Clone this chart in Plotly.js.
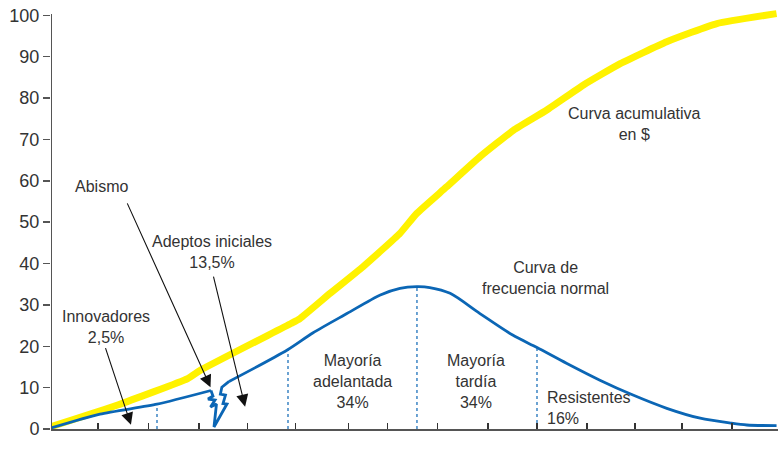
<!DOCTYPE html>
<html>
<head>
<meta charset="utf-8">
<script src="https://cdn.plot.ly/plotly-3.0.1.min.js"></script>
<style>html,body{margin:0;padding:0;background:#fff;}#chart{width:778px;height:457px;}</style>
</head>
<body>
<div id="chart"></div>
<script>
// Cumulative curve (yellow)
const cumX = [0, 9.17, 18.8, 20.6, 33.0, 34.25, 38.4, 42.9, 48.0, 50.3, 54.4, 59.0, 63.6, 68.2, 73.2, 78.3, 84.7, 91.6, 99.8];
const cumY = [0.56, 5.8, 12.2, 14.25, 25.5, 26.7, 32.8, 39.2, 47.3, 52.1, 58.5, 65.8, 72.2, 77.1, 83.1, 88.3, 93.6, 98.0, 100.4];

// Normal frequency curve (blue): innovators part
const freqAX = [0, 6.74, 14.58, 22.0];
const freqAY = [0.24, 3.6, 6.0, 9.3];
// the chasm zig-zag
const chasmX = [22.0, 22.28, 21.6, 22.56, 21.94, 22.76, 22.42, 24.2, 23.66, 24.0, 23.3, 23.5, 24.2, 24.5];
const chasmY = [9.3, 7.97, 7.25, 7.0, 5.31, 6.04, 0.48, 6.04, 6.16, 8.2, 8.45, 10.1, 11.1, 11.5];
// main bell part
const freqBX = [24.5, 32.5, 36.0, 40.7, 45.3, 48.0, 50.3, 52.1, 54.9, 59.0, 63.5, 66.85, 70.9, 75.5, 80.05, 84.7, 89.3, 93.6, 95.7, 99.8];
const freqBY = [11.5, 19.1, 23.2, 27.9, 32.4, 34.0, 34.4, 34.2, 32.8, 27.9, 22.7, 19.7, 15.9, 11.8, 8.2, 5.0, 2.6, 1.4, 0.97, 0.8];

// Segment boundaries (dotted verticals) and their heights on the blue curve
const divX = [14.58, 32.6, 50.34, 66.85];
const divY = [6.0, 19.1, 34.4, 19.7];

// Axis ticks
const xTicks = [6.46, 13.41, 20.36, 27.03, 33.63, 40.92, 46.29, 53.16, 60.11, 66.85, 73.73, 80.33, 86.8, 93.67];
const yTicks = [0, 10, 20, 30, 40, 50, 60, 70, 80, 90, 100];

const BLUE = '#0b66b5';
const YELLOW = '#fff200';
const TXT = '#333333';

const traces = [];
divX.forEach((x, i) => {
  traces.push({x: [x, x], y: [0, divY[i]], mode: 'lines', line: {color: BLUE, width: 1.2, dash: 'dot'}, hoverinfo: 'skip', showlegend: false});
});
traces.push({x: cumX, y: cumY, mode: 'lines', line: {color: YELLOW, width: 7, shape: 'spline', smoothing: 0.4}, showlegend: false, cliponaxis: false});
traces.push({x: freqAX, y: freqAY, mode: 'lines', line: {color: BLUE, width: 2.8, shape: 'spline', smoothing: 0.6}, showlegend: false});
traces.push({x: chasmX, y: chasmY, mode: 'lines', line: {color: BLUE, width: 2.8}, showlegend: false});
traces.push({x: freqBX, y: freqBY, mode: 'lines', line: {color: BLUE, width: 2.8, shape: 'spline', smoothing: 0.8}, showlegend: false});

const font = {family: 'Liberation Sans, Arial, sans-serif', size: 16, color: TXT};

function arrow(hx, hy, tx, ty) {
  return {x: hx, y: hy, ax: tx, ay: ty, xref: 'x', yref: 'y', axref: 'x', ayref: 'y', text: '', showarrow: true,
          arrowhead: 2, arrowsize: 2.2, arrowwidth: 1.1, arrowcolor: '#111'};
}

const annotations = [
  {x: 7.0, y: 58.5, text: 'Abismo'},
  {x: 22.15, y: 42.75, text: 'Adeptos iniciales<br>13,5%'},
  {x: 7.57, y: 24.6, text: 'Innovadores<br>2,5%'},
  {x: 80.2, y: 73.7, text: 'Curva acumulativa<br>en $'},
  {x: 67.95, y: 36.5, text: 'Curva de<br>frecuencia normal'},
  {x: 41.5, y: 11.6, text: 'Mayoría<br>adelantada<br>34%'},
  {x: 58.5, y: 11.6, text: 'Mayoría<br>tardía<br>34%'}
].map(a => Object.assign({xref: 'x', yref: 'y', showarrow: false, font: font, align: 'center'}, a));

annotations.push({x: 67.95, y: 5.07, xref: 'x', yref: 'y', xanchor: 'left', align: 'left', showarrow: false, font: font, text: 'Resistentes<br>16%'});
annotations.push({x: 49.8, y: -4.9, xref: 'x', yref: 'y', showarrow: false, font: font, text: 'Tiempo'});
annotations.push(arrow(21.94, 10.1, 10.4, 54.9));
annotations.push(arrow(26.7, 5.4, 22.3, 37.2));
annotations.push(arrow(11.0, 1.0, 7.43, 19.9));

const layout = {
  width: 778, height: 457,
  margin: {l: 51, r: 0, t: 7, b: 28},
  paper_bgcolor: '#ffffff', plot_bgcolor: '#ffffff',
  font: font,
  xaxis: {range: [0, 100], showgrid: false, zeroline: false, showline: true, linecolor: '#555', linewidth: 2,
          tickmode: 'array', tickvals: xTicks, ticks: 'inside', ticklen: 6, tickwidth: 1.5, tickcolor: '#333', showticklabels: false, fixedrange: true},
  yaxis: {range: [0, 102], showgrid: false, zeroline: false, showline: false,
          tickmode: 'array', tickvals: yTicks, ticktext: yTicks.map(String), ticks: 'outside', ticklen: 7, tickwidth: 1.5, tickcolor: '#555',
          tickfont: {family: 'Liberation Sans, Arial, sans-serif', size: 18, color: TXT}, fixedrange: true},
  shapes: [
    {type: 'line', xref: 'x', yref: 'y', x0: 0, x1: 0, y0: -2.7, y1: 100.3, line: {color: '#555', width: 2}, layer: 'above'}
  ],
  annotations: annotations,
  showlegend: false
};

Plotly.newPlot('chart', traces, layout, {staticPlot: true, displayModeBar: false});
</script>
</body>
</html>
